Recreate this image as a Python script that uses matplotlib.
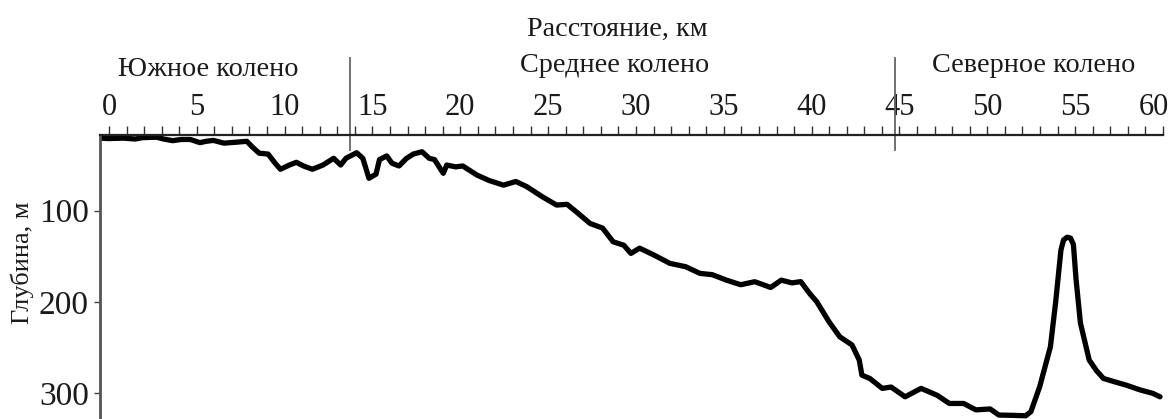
import matplotlib
matplotlib.use("Agg")
import matplotlib.pyplot as plt
import matplotlib.transforms as mtransforms
from matplotlib.ticker import MultipleLocator

plt.rcParams['font.family'] = ['Liberation Serif', 'DejaVu Serif']

# Bottom depth profile along the channel
distance_km = [
    -0.51, 0.0, 0.80, 1.50, 1.91, 2.71, 3.11, 3.62, 4.12, 4.63, 5.18, 5.53,
    5.94, 6.54, 7.24, 7.85, 8.15, 8.55, 9.06, 9.46, 9.76, 10.27, 10.67, 11.07,
    11.58, 12.18, 12.79, 13.19, 13.49, 14.10, 14.45, 14.80, 15.20, 15.40,
    15.81, 16.11, 16.51, 16.92, 17.32, 17.82, 18.23, 18.53, 19.03, 19.23,
    19.74, 20.14, 20.95, 21.65, 22.46, 23.16, 23.77, 24.67, 25.48, 26.08,
    26.59, 27.39, 28.10, 28.70, 29.31, 29.71, 30.21, 31.02, 31.93, 32.83,
    33.64, 34.34, 35.15, 35.96, 36.76, 37.67, 38.27, 38.88, 39.38, 39.88,
    40.29, 40.99, 41.60, 42.30, 42.71, 42.86, 43.31, 44.02, 44.52, 45.32,
    46.23, 47.14, 47.84, 48.65, 49.35, 50.16, 50.66, 51.47, 52.18, 52.48,
    52.98, 53.59, 53.89, 54.19, 54.34, 54.54, 54.74, 54.90, 55.05, 55.30,
    55.80, 56.21, 56.61, 57.11, 57.92, 58.67, 59.43, 59.83,
]
depth_m = [
    20.5, 21, 20.5, 21.5, 20, 19.5, 21.5, 23.3, 22, 22, 25.5, 24,
    23, 26, 25, 24, 30, 37, 38, 48, 54.6, 50, 47, 51,
    54.6, 50, 42.6, 50, 42.6, 36.5, 42.6, 64.5, 60, 44,
    40, 48, 51, 43, 38, 35.4, 42.6, 44, 59, 50,
    52, 51, 61, 67, 72, 68, 73.5, 84.7, 93.8, 93,
    101, 114, 119, 134, 137.8, 146.7, 141, 148.5, 157.6, 161.3,
    168.6, 170, 176, 181, 177.7, 184, 176, 179, 177.6, 190.5,
    199.6, 221.6, 238, 247, 263.5, 280, 283.6, 294.5, 293, 303.7,
    294.5, 302, 311, 311, 318, 317, 323.7, 324, 324.5, 320,
    292.7, 249, 200, 143, 132, 129, 130, 137, 175, 223,
    263.5, 275, 283.6, 286.5, 291, 296, 300, 303.7,
]

distance_ticks = [0, 5, 10, 15, 20, 25, 30, 35, 40, 45, 50, 55, 60]
depth_ticks = [100, 200, 300]

# Channel sections: boundaries and names
section_bounds = [13.72, 44.74]
section_names = ["Южное колено", "Среднее колено", "Северное колено"]
section_centers = [5.63, 28.8, 52.65]

ink = "#1a1a1a"

fig = plt.figure(figsize=(11.76, 4.19), dpi=100)
ax = fig.add_axes([100 / 1176, 0.0, 1063 / 1176, 284 / 419])

ax.plot(distance_km, depth_m, color="black", lw=3.8,
        solid_joinstyle="round", solid_capstyle="round")

ax.set_xlim(-0.51, 60.0)
ax.set_ylim(328, 17.1)

ax.xaxis.tick_top()
ax.xaxis.set_label_position("top")
ax.set_xticks(distance_ticks)
ax.xaxis.set_minor_locator(MultipleLocator(1))
ax.tick_params(axis="x", which="both", direction="out", length=6.5,
               width=1.0, color="#333333", pad=3, labelsize=22,
               labelcolor=ink)
ax.set_yticks(depth_ticks)
ax.tick_params(axis="y", direction="out", length=4, width=1.0,
               color="#444444", pad=4, labelsize=24, labelcolor=ink)

# keep the last distance label inside the figure edge
last = ax.get_xticklabels()[-1]
last.set_transform(last.get_transform() +
                   mtransforms.ScaledTranslation(-9 / 100, 0,
                                                 fig.dpi_scale_trans))

for side in ("right", "bottom"):
    ax.spines[side].set_visible(False)
ax.spines["top"].set_linewidth(1.6)
ax.spines["top"].set_color("#222222")
ax.spines["left"].set_linewidth(2.0)
ax.spines["left"].set_color("#555555")

# Section separators crossing the distance axis
xtrans = ax.get_xaxis_transform()
for b in section_bounds:
    ax.plot([b, b], [0.947, 1.271], transform=xtrans, color="#666666",
            lw=1.3, clip_on=False)

section_y = [1.229, 1.243, 1.243]
for name, xc, yy in zip(section_names, section_centers, section_y):
    ax.text(xc, yy, name, transform=xtrans, ha="center", va="center",
            fontsize=20.3, color=ink)

ax.text(28.91, 1.373, "Расстояние, км", transform=xtrans, ha="center",
        va="center", fontsize=20.3, color=ink)

ax.set_ylabel("Глубина, м", fontsize=19, color=ink)
ax.yaxis.label.set_va("center")
ax.yaxis.set_label_coords(-0.0734, 0.549)

fig.savefig("out.png", dpi=100, facecolor="white")
